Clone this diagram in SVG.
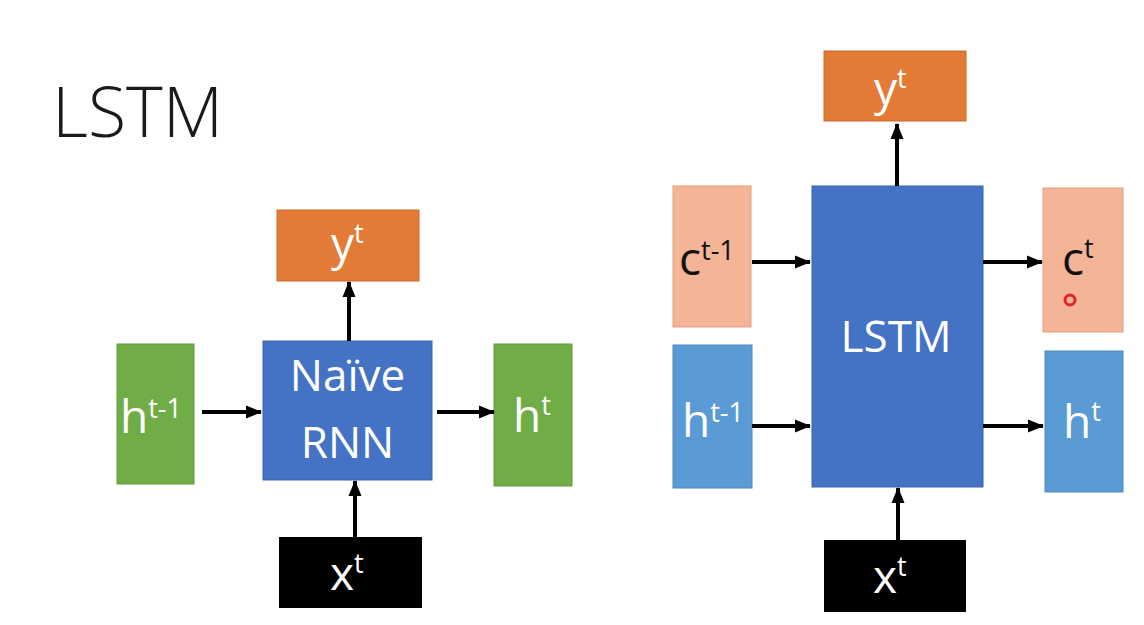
<svg xmlns="http://www.w3.org/2000/svg" width="1144" height="625" viewBox="0 0 1144 625">
<style>
.lbl{font-family:"Open Sans","Liberation Sans",sans-serif;font-size:46px;fill:#fff}
.dark{fill:#111}
.sup{font-size:27px}
.big{font-family:"Open Sans","Liberation Sans",sans-serif;font-size:44px;fill:#fff;text-anchor:middle}
.green{fill:#70AD47;stroke:#5f9a3c;stroke-width:1}
.blue{fill:#4472C4;stroke:#3b64ad;stroke-width:1}
.lblue{fill:#5B9BD5;stroke:#4f88bd;stroke-width:1}
.orange{fill:#E37B36;stroke:#c96a2c;stroke-width:1}
.salmon{fill:#F4B496;stroke:#e09f82;stroke-width:1}
.black{fill:#000}
.arr{stroke:#000;stroke-width:4;fill:none;marker-end:url(#ah)}
</style>
<defs>
<marker id="ah" markerUnits="userSpaceOnUse" markerWidth="16" markerHeight="16" viewBox="0 0 16 16" refX="15" refY="8" orient="auto">
<path d="M0,1.5 L16,8 L0,14.5 z" fill="#000"/>
</marker>
</defs>
<rect width="1144" height="625" fill="#fff"/>
<text x="52" y="137" font-family="'Open Sans','Liberation Sans',sans-serif" font-size="70" font-weight="300" fill="#1a1a1a">LSTM</text>

<g id="rnn-y"><rect class="orange" x="277" y="210" width="142" height="71"/><text class="lbl" x="331" y="260">y<tspan class="sup" dy="-17">t</tspan></text></g>
<g id="rnn-hprev"><rect class="green" x="117" y="344" width="77" height="140"/><text class="lbl" x="120" y="433">h<tspan class="sup" dy="-15">t-1</tspan></text></g>
<g id="rnn"><rect class="blue" x="263" y="341" width="169" height="139"/><text class="big" x="347.5" y="391">Naïve</text><text class="big" x="347.5" y="458">RNN</text></g>
<g id="rnn-h"><rect class="green" x="494" y="344" width="78" height="142"/><text class="lbl" x="513" y="432">h<tspan class="sup" dy="-17">t</tspan></text></g>
<g id="rnn-x"><rect class="black" x="279" y="537" width="143" height="71"/><text class="lbl" x="330" y="590">x<tspan class="sup" dy="-17">t</tspan></text></g>

<g id="lstm-y"><rect class="orange" x="824" y="51" width="142" height="70"/><text class="lbl" x="874" y="105">y<tspan class="sup" dy="-17">t</tspan></text></g>
<g id="lstm-cprev"><rect class="salmon" x="673" y="186" width="78" height="141"/><text class="lbl dark" x="679" y="275">c<tspan class="sup" dy="-15">t-1</tspan></text></g>
<g id="lstm-hprev"><rect class="lblue" x="673" y="345" width="79" height="143"/><text class="lbl" x="682" y="437">h<tspan class="sup" dy="-15">t-1</tspan></text></g>
<g id="lstm"><rect class="blue" x="812" y="186" width="171" height="301"/><text class="big" x="896" y="352">LSTM</text></g>
<g id="lstm-c"><rect class="salmon" x="1043" y="188" width="80" height="144"/><text class="lbl dark" x="1062" y="275">c<tspan class="sup" dy="-17">t</tspan></text><circle cx="1070" cy="300" r="5" fill="none" stroke="#E8202A" stroke-width="3"/></g>
<g id="lstm-h"><rect class="lblue" x="1045" y="351" width="78" height="141"/><text class="lbl" x="1063" y="438">h<tspan class="sup" dy="-17">t</tspan></text></g>
<g id="lstm-x"><rect class="black" x="824" y="540" width="142" height="72"/><text class="lbl" x="873" y="593">x<tspan class="sup" dy="-17">t</tspan></text></g>

<g id="connectors">
<line class="arr" x1="349" y1="341" x2="349" y2="282"/>
<line class="arr" x1="202" y1="412" x2="261" y2="412"/>
<line class="arr" x1="437" y1="412" x2="494" y2="412"/>
<line class="arr" x1="355" y1="537" x2="355" y2="481"/>
<line class="arr" x1="897" y1="186" x2="897" y2="124"/>
<line class="arr" x1="752" y1="262" x2="810" y2="262"/>
<line class="arr" x1="983" y1="262" x2="1042" y2="262"/>
<line class="arr" x1="752" y1="426" x2="810" y2="426"/>
<line class="arr" x1="983" y1="426" x2="1043" y2="426"/>
<line class="arr" x1="898" y1="540" x2="898" y2="488"/>
</g>
</svg>
